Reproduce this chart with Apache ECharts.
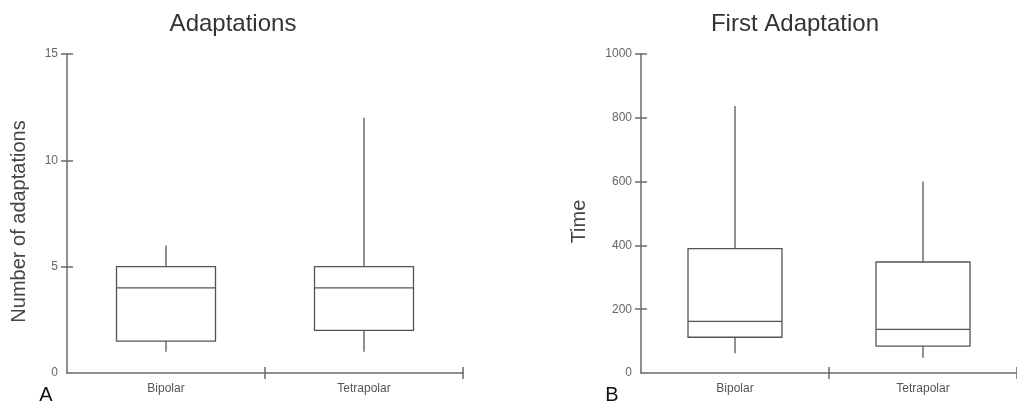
<!DOCTYPE html>
<html>
<head>
<meta charset="utf-8">
<script src="https://cdn.jsdelivr.net/npm/echarts@6/dist/echarts.min.js"></script>
<style>html,body{margin:0;padding:0;background:#fff}#c{width:1017px;height:408px}</style>
</head>
<body>
<div id="c"></div>
<script>
const categories = ['Bipolar', 'Tetrapolar'];
// Panel A: Adaptations
const adaptMin = [1, 1];
const adaptQ1 = [1.5, 2];
const adaptMedian = [4, 4];
const adaptQ3 = [5, 5];
const adaptMax = [6, 12];
const adaptTicks = [0, 5, 10, 15];
// Panel B: First Adaptation (time)
const timeMin = [62, 48];
const timeQ1 = [112, 84];
const timeMedian = [162, 137];
const timeQ3 = [390, 348];
const timeMax = [837, 600];
const timeTicks = [0, 200, 400, 600, 800, 1000];

const FONT = 'Liberation Sans, Arial, sans-serif';
const AX = '#6a6a6a';
const BOX = '#555';

function build(mins, q1, med, q3, maxs) {
  return categories.map((c, i) => [i, mins[i], q1[i], med[i], q3[i], maxs[i]]);
}

function renderBox(params, api) {
  const i = api.value(0);
  const pMin = api.coord([i, api.value(1)]);
  const pQ1 = api.coord([i, api.value(2)]);
  const pMed = api.coord([i, api.value(3)]);
  const pQ3 = api.coord([i, api.value(4)]);
  const pMax = api.coord([i, api.value(5)]);
  const w = api.size([1, 0])[0] * 0.5;
  const x0 = pQ1[0] - w / 2, x1 = pQ1[0] + w / 2;
  const ls = { stroke: BOX, lineWidth: 1.3, fill: null };
  return {
    type: 'group',
    children: [
      { type: 'rect', shape: { x: x0, y: pQ3[1], width: w, height: pQ1[1] - pQ3[1] }, style: { stroke: BOX, lineWidth: 1.3, fill: '#fff' } },
      { type: 'line', shape: { x1: x0, y1: pMed[1], x2: x1, y2: pMed[1] }, style: ls },
      { type: 'line', shape: { x1: pQ3[0], y1: pQ3[1], x2: pMax[0], y2: pMax[1] }, style: ls },
      { type: 'line', shape: { x1: pQ1[0], y1: pQ1[1], x2: pMin[0], y2: pMin[1] }, style: ls }
    ]
  };
}

function xAxesFor(gridIndex) {
  const base = {
    type: 'value', gridIndex: gridIndex, min: -0.5, max: 1.5, position: 'bottom',
    splitLine: { show: false }
  };
  return [
    Object.assign({}, base, {
      axisLine: { show: true, onZero: false, lineStyle: { color: AX, width: 1.5 } },
      axisTick: { show: true, inside: true, length: 6, customValues: [0.5, 1.5], lineStyle: { color: AX, width: 1.5 } },
      axisLabel: { show: true, customValues: [0, 1], formatter: v => categories[Math.round(v)], color: '#555', fontSize: 12, fontFamily: FONT, margin: 10 }
    }),
    Object.assign({}, base, {
      axisLine: { show: false, onZero: false },
      axisTick: { show: true, inside: false, length: 6, customValues: [0.5, 1.5], lineStyle: { color: AX, width: 1.5 } },
      axisLabel: { show: false }
    })
  ];
}

function yAxesFor(gridIndex, ticks) {
  const base = {
    type: 'value', gridIndex: gridIndex, min: ticks[0], max: ticks[ticks.length - 1], position: 'left',
    interval: ticks[1] - ticks[0], splitLine: { show: false }
  };
  const tickVals = ticks.slice(1);
  return [
    Object.assign({}, base, {
      axisLine: { show: true, onZero: false, lineStyle: { color: AX, width: 1.5 } },
      axisTick: { show: true, inside: true, length: 6, customValues: tickVals, lineStyle: { color: AX, width: 1.5 } },
      axisLabel: { show: true, customValues: ticks, formatter: v => String(v), color: '#666', fontSize: 12, fontFamily: FONT, margin: 9 }
    }),
    Object.assign({}, base, {
      axisLine: { show: false, onZero: false },
      axisTick: { show: true, inside: false, length: 6, customValues: tickVals, lineStyle: { color: AX, width: 1.5 } },
      axisLabel: { show: false }
    })
  ];
}

const chart = echarts.init(document.getElementById('c'), null, { renderer: 'canvas' });
chart.setOption({
  animation: false,
  backgroundColor: '#fff',
  title: [
    { text: 'Adaptations', left: 228, top: 7, textAlign: 'center', textStyle: { fontSize: 24, fontWeight: 'normal', color: '#333', fontFamily: FONT } },
    { text: 'First Adaptation', left: 790, top: 7, textAlign: 'center', textStyle: { fontSize: 24, fontWeight: 'normal', color: '#333', fontFamily: FONT } }
  ],
  grid: [
    { left: 67, top: 54, width: 396, height: 319 },
    { left: 641, top: 54, width: 381, height: 319 }
  ],
  xAxis: [].concat(xAxesFor(0), xAxesFor(1)),
  yAxis: [].concat(yAxesFor(0, adaptTicks), yAxesFor(1, timeTicks)),
  graphic: [
    { type: 'text', x: 19, y: 221.5, rotation: Math.PI / 2, style: { text: 'Number of adaptations', fontSize: 20, fontFamily: FONT, fill: '#444', align: 'center', verticalAlign: 'middle' } },
    { type: 'text', x: 579, y: 221.5, rotation: Math.PI / 2, style: { text: 'Time', fontSize: 20, fontFamily: FONT, fill: '#444', align: 'center', verticalAlign: 'middle' } },
    { type: 'text', x: 46, y: 395, style: { text: 'A', fontSize: 20, fontFamily: FONT, fill: '#111', align: 'center', verticalAlign: 'middle' } },
    { type: 'text', x: 612, y: 395, style: { text: 'B', fontSize: 20, fontFamily: FONT, fill: '#111', align: 'center', verticalAlign: 'middle' } }
  ],
  series: [
    { type: 'custom', name: 'Adaptations', xAxisIndex: 0, yAxisIndex: 0, renderItem: renderBox, encode: { x: 0, y: [1, 2, 3, 4, 5] }, data: build(adaptMin, adaptQ1, adaptMedian, adaptQ3, adaptMax) },
    { type: 'custom', name: 'First Adaptation', xAxisIndex: 2, yAxisIndex: 2, renderItem: renderBox, encode: { x: 0, y: [1, 2, 3, 4, 5] }, data: build(timeMin, timeQ1, timeMedian, timeQ3, timeMax) }
  ]
});
</script>
</body>
</html>
